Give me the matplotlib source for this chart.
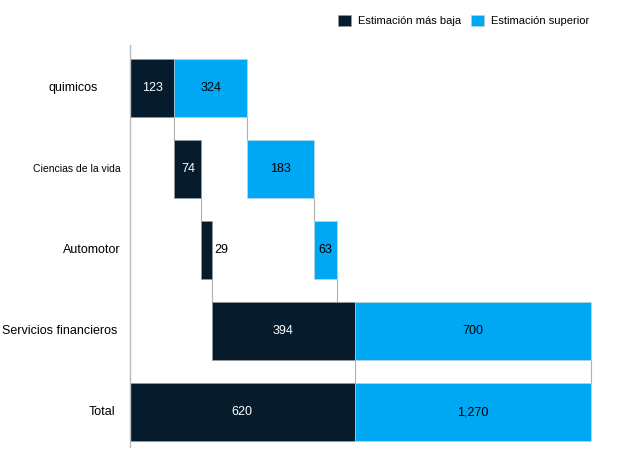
import matplotlib
matplotlib.use("Agg")
import matplotlib.pyplot as plt
from matplotlib.patches import Patch

plt.rcParams['font.family'] = ['Liberation Sans', 'DejaVu Sans']

categories = ['quimicos', 'Ciencias de la vida', 'Automotor', 'Servicios financieros', 'Total']
low = [123, 74, 29, 394, 620]
high = [324, 183, 63, 700, 1270]
low_labels = ['123', '74', '29', '394', '620']
high_labels = ['324', '183', '63', '700', '1,270']

dark = '#061B2B'
light = '#00A8F3'
line_col = '#b0b0b0'

# label placement (x centre in axes fraction, font size)
label_x = [-0.12, -0.112, -0.08, -0.15, -0.06]
label_size = [9, 7.5, 9, 9, 9]

fig = plt.figure(figsize=(6.3, 4.51), dpi=100)
ax = fig.add_axes([0.206, 0.009, 0.746, 0.891])

h = 0.72
low_cum = 0
high_cum = 0
edges = []
for i, cat in enumerate(categories):
    if cat == 'Total':
        l_start, l_end = 0, low[i]
        h_start, h_end = low[i], high[i]
    else:
        l_start, l_end = low_cum, low_cum + low[i]
        h_end = high_cum + high[i]
        h_start = max(l_end, high_cum)
        low_cum = l_end
        high_cum = h_end
    ax.barh(i, l_end - l_start, left=l_start, height=h, color=dark,
            edgecolor='#9aa0a6', linewidth=0.4)
    ax.barh(i, h_end - h_start, left=h_start, height=h, color=light,
            edgecolor='#c8d8e0', linewidth=0.4)
    if l_end - l_start > 40:
        ax.text((l_start + l_end) / 2, i, low_labels[i], ha='center', va='center',
                color='white', fontsize=9)
    else:
        ax.text(l_end + 6, i, low_labels[i], ha='left', va='center',
                color='black', fontsize=9)
    ax.text((h_start + h_end) / 2, i, high_labels[i], ha='center', va='center',
            color='black', fontsize=9)
    edges.append((l_end, h_end))
    ax.text(label_x[i], i, cat, transform=ax.get_yaxis_transform(),
            ha='center', va='center', fontsize=label_size[i])

for i in range(len(categories) - 1):
    for x in edges[i]:
        ax.plot([x, x], [i + h / 2, i + 1 - h / 2], color=line_col, lw=0.8, zorder=0)

ax.set_xlim(0, 1295)
ax.set_ylim(4.43, -0.53)
ax.set_xticks([])
ax.set_yticks([])
for s in ['top', 'right', 'bottom']:
    ax.spines[s].set_visible(False)
ax.spines['left'].set_color('#bbbbbb')
ax.spines['left'].set_linewidth(1.0)

handles = [Patch(facecolor=dark, edgecolor='#999999', linewidth=0.4),
           Patch(facecolor=light, edgecolor='#cccccc', linewidth=0.4)]
fig.legend(handles, ['Estimación más baja', 'Estimación superior'],
           loc='upper left', bbox_to_anchor=(0.52, 0.99), ncol=2, frameon=False,
           fontsize=8, handlelength=1.2, handleheight=1.2, columnspacing=0.9,
           handletextpad=0.6)

fig.savefig('out.png', dpi=100)
